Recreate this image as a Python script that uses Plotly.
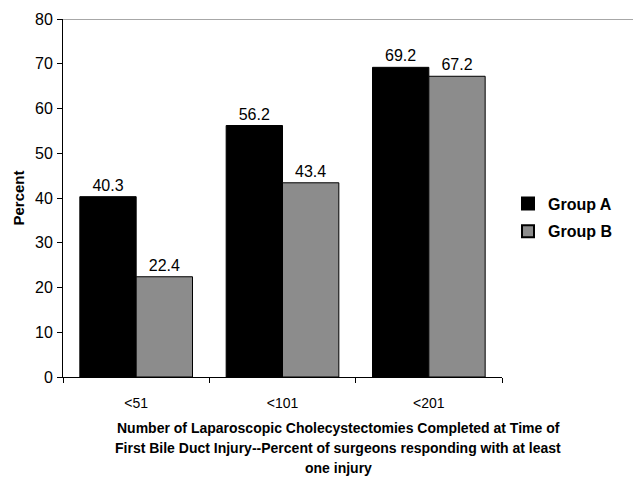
import plotly.graph_objects as go

categories = ["<51", "<101", "<201"]
group_a = [40.3, 56.2, 69.2]
group_b = [22.4, 43.4, 67.2]
series_names = ["Group A", "Group B"]
y_ticks = [0, 10, 20, 30, 40, 50, 60, 70, 80]
x_title_lines = [
    "Number of Laparoscopic Cholecystectomies Completed at Time of",
    "First Bile Duct Injury--Percent of surgeons responding with at least",
    "one injury",
]

FONT = "Arial, Liberation Sans, sans-serif"

fig = go.Figure()
fig.add_trace(go.Bar(
    x=categories, y=group_a, name=series_names[0], legendgroup="a",
    marker=dict(color="#000000", line=dict(color="#000000", width=1)),
    text=[f"{v:.1f}" for v in group_a], textposition="outside",
    textfont=dict(size=16, color="#000000", family=FONT), cliponaxis=False,
))
fig.add_trace(go.Bar(
    x=categories, y=group_b, name=series_names[1], legendgroup="b",
    marker=dict(color="#8c8c8c", line=dict(color="#000000", width=1)),
    text=[f"{v:.1f}" for v in group_b], textposition="outside",
    textfont=dict(size=16, color="#000000", family=FONT), cliponaxis=False,
))

# page has an 8px body margin; work in figure coords = page coords - 8
W, H = 633, 469
L, T = 55, 11
R = W - 494
B = H - 369
pw = W - L - R
ph = H - T - B

def px_to_paper_x(x):
    return (x - L) / pw

def px_to_paper_y(y):
    return (H - B - y) / ph

annotations = []
for i, line in enumerate(x_title_lines):
    annotations.append(dict(
        text=f"<b>{line}</b>", xref="paper", yref="paper",
        x=px_to_paper_x(330), y=px_to_paper_y(420 + 20 * i),
        xanchor="center", yanchor="middle", showarrow=False,
        font=dict(size=14, family=FONT, color="#000000"),
    ))

fig.update_layout(
    width=W, height=H,
    margin=dict(l=L, r=R, t=T, b=B, autoexpand=False),
    paper_bgcolor="white", plot_bgcolor="white",
    barmode="group", bargap=0.23, bargroupgap=0,
    font=dict(family=FONT, size=14, color="#000000"),
    showlegend=True,
    legend=dict(x=px_to_paper_x(500), y=px_to_paper_y(209.5), xanchor="left", yanchor="middle",
                font=dict(size=16, family=FONT, color="#000000", weight="bold"),
                bgcolor="rgba(0,0,0,0)", traceorder="grouped", tracegroupgap=4,
                itemsizing="constant"),
    xaxis=dict(
        showline=True, linecolor="#000000", linewidth=1, automargin=False,
        ticks="outside", ticklen=5, tickcolor="#000000", tickson="boundaries",
        tickfont=dict(size=14, family=FONT), showgrid=False, ticklabelstandoff=13,
    ),
    yaxis=dict(
        range=[0, 80], tickvals=y_ticks, showline=True, linecolor="#000000", linewidth=1,
        ticks="outside", ticklen=5, tickcolor="#000000", showgrid=False, zeroline=False,
        tickfont=dict(size=16, family=FONT), automargin=False, ticklabelstandoff=1,
        title=dict(text="<b>Percent</b>", font=dict(size=15, family=FONT), standoff=6),
    ),
    shapes=[dict(type="line", xref="paper", yref="y", x0=0, x1=px_to_paper_x(632), y0=80, y1=80,
                 line=dict(color="#8a8a8a", width=1.5))],
    annotations=annotations,
)

fig.write_html("out.html")
